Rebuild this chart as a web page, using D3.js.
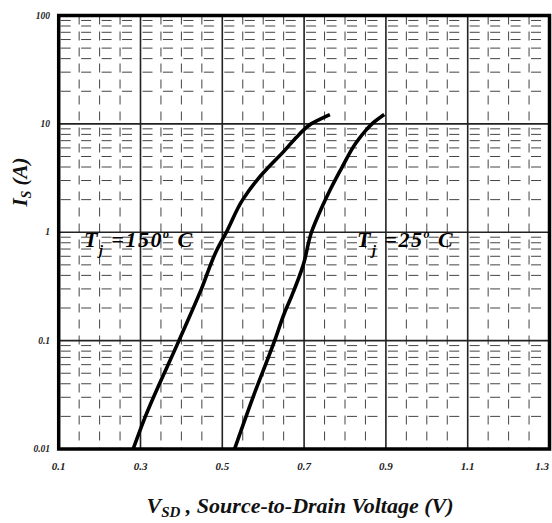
<!DOCTYPE html>
<html><head><meta charset="utf-8">
<script src="https://cdn.jsdelivr.net/npm/d3@7/dist/d3.min.js"></script>
<style>body{margin:0;background:#fff}svg{display:block}text{font-family:"Liberation Serif","DejaVu Serif",serif;font-style:italic;font-weight:bold}</style>
</head><body><svg id="c" width="552" height="523"></svg>
<script>
// Data
const curve150 = [[0.282,0.01],[0.312,0.02],[0.394,0.1],[0.449,0.3],[0.487,0.69],[0.510,1.0],[0.550,2.0],[0.586,3.06],[0.615,4.06],[0.647,5.4],[0.684,7.7],[0.717,10],[0.763,12.2]];
const curve25 = [[0.530,0.01],[0.575,0.03],[0.628,0.1],[0.652,0.18],[0.670,0.26],[0.698,0.5],[0.718,1.0],[0.741,1.62],[0.764,2.48],[0.794,4.06],[0.827,6.7],[0.853,8.9],[0.866,10],[0.896,12.2]];
const xTicks = [0.1,0.3,0.5,0.7,0.9,1.1,1.3];
const yTicks = [0.01,0.1,1,10,100];
const yTickLabels = ["0.01","0.1","1","10","100"];

const svg = d3.select("#c");
const L=58.7, R=549.5, T=15.5, B=449;
const x = d3.scaleLinear().domain([0.1,1.3]).range([L,R]);
const y = d3.scaleLog().domain([0.01,100]).range([B,T]);

const xMinor = d3.range(0.15,1.3,0.05).map(v=>+v.toFixed(2)).filter(v=>!xTicks.some(t=>Math.abs(t-v)<1e-6));
const yMinor = [];
[0.01,0.1,1,10].forEach(d=>{for(let k=2;k<=9;k++) yMinor.push(d*k);});

const g = svg.append("g");
g.selectAll(".vm").data(xMinor).join("line")
 .attr("x1",d=>x(d)).attr("x2",d=>x(d)).attr("y1",T).attr("y2",B)
 .attr("stroke","#444").attr("stroke-width",1).attr("stroke-dasharray","9,7");
g.selectAll(".hm").data(yMinor).join("line")
 .attr("x1",L).attr("x2",R).attr("y1",d=>y(d)).attr("y2",d=>y(d))
 .attr("stroke","#444").attr("stroke-width",1).attr("stroke-dasharray","10,10.45").attr("stroke-dashoffset",-2);
g.selectAll(".vM").data(xTicks.slice(1,-1)).join("line")
 .attr("x1",d=>x(d)).attr("x2",d=>x(d)).attr("y1",T).attr("y2",B)
 .attr("stroke","#222").attr("stroke-width",1.6);
g.selectAll(".hM").data(yTicks.slice(1,-1)).join("line")
 .attr("x1",L).attr("x2",R).attr("y1",d=>y(d)).attr("y2",d=>y(d))
 .attr("stroke","#222").attr("stroke-width",1.6);

const line = d3.line().x(d=>x(d[0])).y(d=>y(d[1])).curve(d3.curveMonotoneY);
[curve150,curve25].forEach(c=>{
  svg.append("path").datum(c).attr("d",line).attr("fill","none")
   .attr("stroke","#000").attr("stroke-width",3.6);
});

svg.append("rect").attr("x",L).attr("y",T).attr("width",R-L).attr("height",B-T)
 .attr("fill","none").attr("stroke","#000").attr("stroke-width",3.5);

svg.selectAll(".yl").data(yTicks).join("text")
 .attr("x",50).attr("y",d=>y(d)+3).attr("text-anchor","end")
 .attr("font-size",9.5).attr("fill","#222").text((d,i)=>yTickLabels[i]);
svg.selectAll(".xl").data(xTicks).join("text")
 .attr("x",d=>Math.min(x(d),542)).attr("y",470).attr("text-anchor","middle")
 .attr("font-size",11).attr("fill","#222").text(d=>d.toFixed(1));

const xt = svg.append("text").attr("x",300).attr("y",513).attr("text-anchor","middle").attr("font-size",22).attr("fill","#111");
xt.append("tspan").text("V");
xt.append("tspan").attr("font-size",15).attr("dy",4).text("SD");
xt.append("tspan").attr("dy",-4).text(" , Source-to-Drain Voltage (V)");

const yt = svg.append("text").attr("transform","translate(27,182) rotate(-90)").attr("text-anchor","middle").attr("font-size",21).attr("fill","#111");
yt.append("tspan").text("I");
yt.append("tspan").attr("font-size",14).attr("dy",4).text("S");
yt.append("tspan").attr("dy",-4).text(" (A)");

function ann(xp,yp,num){
  const t = svg.append("text").attr("x",xp).attr("y",yp).attr("font-size",22).attr("letter-spacing",1.5).attr("fill","#000");
  t.append("tspan").text("T");
  t.append("tspan").attr("font-size",14).attr("dy",8).text("j");
  t.append("tspan").attr("dy",-8).text(" ="+num);
  t.append("tspan").attr("font-size",12).attr("dy",-9).text("o");
  t.append("tspan").attr("dy",9).text(" C");
}
ann(84,247,"150");
ann(357,247,"25");
</script></body></html>
